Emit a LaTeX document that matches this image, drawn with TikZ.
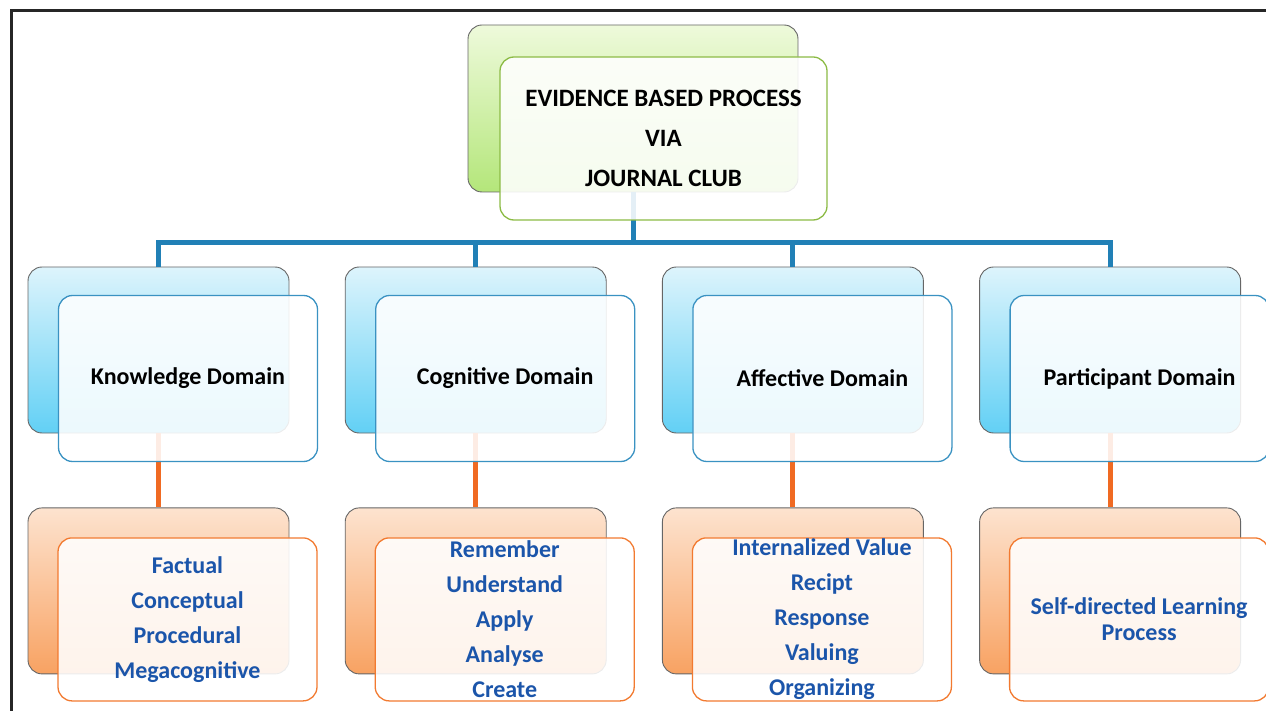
\documentclass[tikz,border=0pt]{standalone}
\usepackage{fontspec}
\setmainfont{Carlito}
\usetikzlibrary{positioning}

\definecolor{verdesus}{HTML}{EEFADB}
\definecolor{verdejos}{HTML}{B4E67A}
\definecolor{verdechenar}{HTML}{8CBB45}
\definecolor{albsus}{HTML}{DDF4FC}
\definecolor{albjos}{HTML}{62D0F5}
\definecolor{albchenar}{HTML}{3A92C2}
\definecolor{portsus}{HTML}{FDE3CF}
\definecolor{portjos}{HTML}{F8A262}
\definecolor{portchenar}{HTML}{F27A30}
\definecolor{linieabl}{HTML}{2180B6}
\definecolor{linieport}{HTML}{F06A22}
\definecolor{textabl}{HTML}{1B55AA}

\tikzset{
  spate/.style      = {draw=black!60, line width=0.9pt, rounded corners=14pt,
                       minimum width=261pt, minimum height=166pt},
  spateverde/.style = {spate, minimum width=330pt, minimum height=167pt,
                       top color=verdesus, bottom color=verdejos},
  spateabl/.style   = {spate, top color=albsus, bottom color=albjos},
  spateport/.style  = {spate, top color=portsus, bottom color=portjos},
  fata/.style       = {draw, line width=1.3pt, rounded corners=14pt, fill=white,
                       fill opacity=0.88, text opacity=1, align=center, inner sep=0pt,
                       minimum width=259pt, minimum height=166pt},
  fataverde/.style  = {fata, draw=verdechenar, minimum width=327pt, minimum height=163pt,
                       font=\bfseries\fontsize{25}{40}\selectfont},
  fataabl/.style    = {fata, draw=albchenar, font=\bfseries\fontsize{24}{28}\selectfont},
  fataport/.style   = {fata, draw=portchenar, minimum height=163pt, text=textabl,
                       font=\bfseries\fontsize{24}{35}\selectfont},
  legabl/.style     = {draw=linieabl, line width=5pt},
  legport/.style    = {draw=linieport, line width=5pt},
  cadru/.style      = {draw=black!85, line width=3pt}
}

\begin{document}
\begin{tikzpicture}[x=1pt, y=-1pt, node distance=74pt and 55.3pt]
    \useasboundingbox (0,0) rectangle (1266,711);
    \draw[cadru] (11,711) -- (11,11) -- (1266,11);

    % back panels
    \node[spateverde] (tspate) at (633,108.5) {};
    \node[spateabl] (kspate) at (158.5,350) {};
    \node[spateabl, right=of kspate] (cspate) {};
    \node[spateabl, right=of cspate] (aspate) {};
    \node[spateabl, right=of aspate] (pspate) {};
    \node[spateport, below=of kspate] (kjos) {};
    \node[spateport, below=of cspate] (cjos) {};
    \node[spateport, below=of aspate] (ajos) {};
    \node[spateport, below=of pspate] (pjos) {};

    % connectors
    \draw[legabl] (tspate.south) -- ++(0,50) coordinate (bara);
    \foreach \d in {kspate,cspate,aspate,pspate}
        \draw[legabl] (bara) -| (\d.north);
    \draw[legport] (kspate.south) -- (kjos.north);
    \draw[legport] (cspate.south) -- (cjos.north);
    \draw[legport] (aspate.south) -- (ajos.north);
    \draw[legport] (pspate.south) -- (pjos.north);

    % front panels
    \node[fataverde] (tfata) at ([shift={(30.5,30)}]tspate) {EVIDENCE BASED PROCESS\\ VIA\\ JOURNAL CLUB};
    \node[fataabl] (kfata) at ([shift={(29.5,28.5)}]kspate) {Knowledge Domain};
    \node[fataabl] (cfata) at ([shift={(29.5,28.5)}]cspate) {Cognitive Domain};
    \node[fataabl] (afata) at ([shift={(29.5,28.5)}]aspate) {Affective Domain};
    \node[fataabl] (pfata) at ([shift={(29.5,28.5)}]pspate) {Participant Domain};
    \node[fataport] (kfjos) at ([shift={(29,28.5)}]kjos) {Factual\\ Conceptual\\ Procedural\\ Megacognitive};
    \node[fataport] (cfjos) at ([shift={(29,28.5)}]cjos) {Remember\\ Understand\\ Apply\\ Analyse\\ Create};
    \node[fataport] (afjos) at ([shift={(29,28.5)}]ajos) {Internalized Value\\ Recipt\\ Response\\ Valuing\\ Organizing};
    \node[fataport, font=\bfseries\fontsize{24}{26}\selectfont] (pfjos) at ([shift={(29,28.5)}]pjos) {Self-directed Learning\\ Process};
\end{tikzpicture}
\end{document}
